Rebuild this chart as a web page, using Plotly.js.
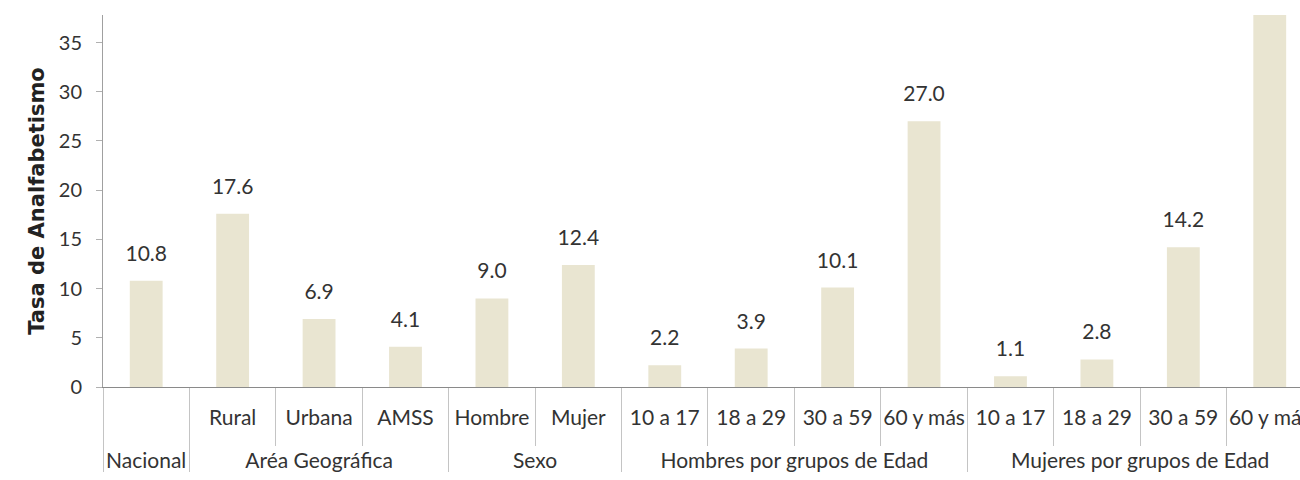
<!DOCTYPE html>
<html>
<head>
<meta charset="utf-8">
<script src="https://cdn.plot.ly/plotly-3.0.1.min.js"></script>
<style>html,body{margin:0;padding:0;background:#fff;}#chart{width:1300px;height:480px;}</style>
</head>
<body>
<div id="chart"></div>
<script>
const groups = ["Nacional", "Aréa Geográfica", "Aréa Geográfica", "Aréa Geográfica", "Sexo", "Sexo",
  "Hombres por grupos de Edad", "Hombres por grupos de Edad", "Hombres por grupos de Edad", "Hombres por grupos de Edad",
  "Mujeres por grupos de Edad", "Mujeres por grupos de Edad", "Mujeres por grupos de Edad", "Mujeres por grupos de Edad"];
const categories = [" ", "Rural", "Urbana", "AMSS", "Hombre", "Mujer",
  "10 a 17", "18 a 29", "30 a 59", "60 y más",
  "10 a 17", "18 a 29", "30 a 59", "60 y más"];
const values = [10.8, 17.6, 6.9, 4.1, 9.0, 12.4, 2.2, 3.9, 10.1, 27.0, 1.1, 2.8, 14.2, 40.5];
const yTicks = [0, 5, 10, 15, 20, 25, 30, 35];

const FONT = "Lato, 'Open Sans', sans-serif";
const TXT = "#333333";

// outer level labels are pushed one line lower, as in the reference
const groupLabels = groups.map(g => "<br>" + g);

const bars = {
  type: "bar",
  x: [groupLabels, categories],
  y: values,
  width: 0.38,
  marker: {color: "#e9e5d1", line: {width: 0}},
  hoverinfo: "skip",
  cliponaxis: true
};
const labels = {
  type: "scatter",
  mode: "markers+text",
  x: [groupLabels, categories],
  y: values,
  text: values.map(v => v.toFixed(1)),
  textposition: "top center",
  textfont: {family: FONT, size: 21, color: TXT},
  marker: {size: 22, opacity: 0},
  cliponaxis: true,
  hoverinfo: "skip"
};

const layout = {
  width: 1300, height: 480,
  margin: {l: 103, r: 0, t: 15, b: 93},
  paper_bgcolor: "#ffffff", plot_bgcolor: "#ffffff",
  showlegend: false,
  xaxis: {
    type: "multicategory",
    range: [-0.5, 13.35],
    tickangle: 0,
    showline: true, linecolor: "#8a8a8a", linewidth: 1,
    ticks: "outside", tickson: "boundaries", ticklen: 58, tickcolor: "#c4c4c4", tickwidth: 1,
    ticklabelstandoff: 12,
    showdividers: true, dividercolor: "#c4c4c4", dividerwidth: 1,
    showgrid: false, zeroline: false,
    tickfont: {family: FONT, size: 21, color: TXT},
    fixedrange: true
  },
  yaxis: {
    range: [0, 37.8],
    tickvals: yTicks,
    ticktext: yTicks.map(String),
    showline: true, linecolor: "#a0a0a0", linewidth: 1,
    ticks: "outside", ticklen: 6, tickcolor: "#b0b0b0",
    ticklabelstandoff: 10,
    showgrid: false, zeroline: false,
    tickfont: {family: FONT, size: 20, color: TXT},
    title: {text: "Tasa de Analfabetismo", standoff: 8,
            font: {family: "'DejaVu Sans', sans-serif", size: 21, color: "#222222", weight: "bold"}},
    fixedrange: true
  }
};

Plotly.newPlot("chart", [bars, labels], layout, {displayModeBar: false, staticPlot: true});
</script>
</body>
</html>
